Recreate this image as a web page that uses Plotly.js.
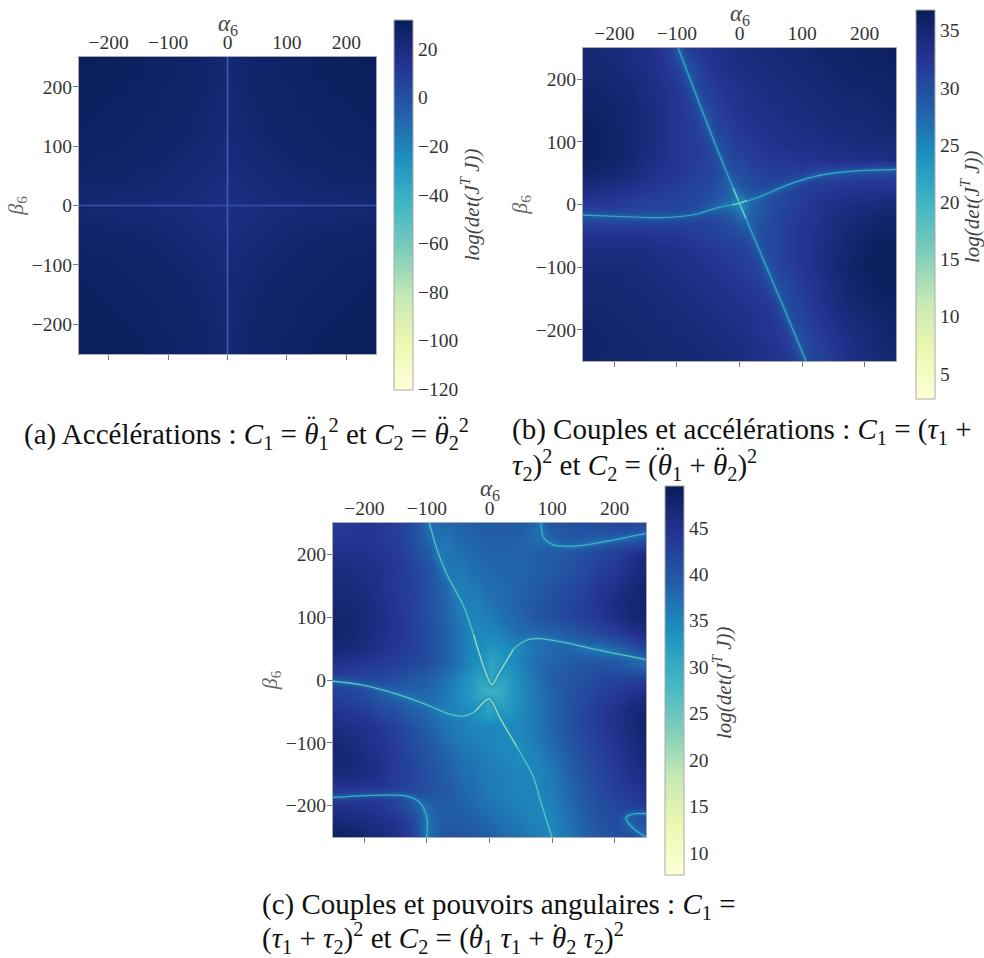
<!DOCTYPE html>
<html><head><meta charset="utf-8">
<script src="https://cdn.plot.ly/plotly-3.0.1.min.js"></script>
<style>html,body{margin:0;padding:0;background:#fff}</style>
</head><body><div id="chart" style="width:984px;height:958px"></div>
<script>
const alphaGrid=[-250,-225,-200,-175,-150,-125,-100,-75,-50,-25,0,25,50,75,100,125,150,175,200,225,250];
const betaGrid=[250,225,200,175,150,125,100,75,50,25,0,-25,-50,-75,-100,-125,-150,-175,-200,-225,-250];
const axisTicks=[-200,-100,0,100,200];
const colorStops=[[0,'#ffffd9'],[0.125,'#edf8b1'],[0.25,'#c7e9b4'],[0.375,'#7fcdbb'],[0.5,'#41b6c4'],[0.625,'#1d91c0'],[0.75,'#225ea8'],[0.875,'#253494'],[1,'#081d58']];
const barTicksA=[-120,-100,-80,-60,-40,-20,0,20];
const barTicksB=[5,10,15,20,25,30,35];
const barTicksC=[10,15,20,25,30,35,40,45];

const zA=[
[30,30,30,29,29,28,28,27,27,25,24,25,27,27,28,28,29,29,30,30,30],
[30,30,29,29,29,28,28,27,26,25,23,25,26,27,28,28,29,29,29,30,30],
[30,29,29,29,28,28,27,27,26,25,23,25,26,27,27,28,28,29,29,29,30],
[29,29,29,28,28,28,27,27,26,24,23,24,26,27,27,28,28,28,29,29,29],
[29,29,28,28,28,27,27,26,25,24,22,24,25,26,27,27,28,28,28,29,29],
[29,28,28,28,27,27,26,26,25,23,22,23,25,26,26,27,27,28,28,28,29],
[28,28,28,27,27,26,26,25,24,23,21,23,24,25,26,26,27,27,28,28,28],
[28,27,27,27,26,26,25,24,23,22,21,22,23,24,25,26,26,27,27,27,28],
[27,26,26,26,25,25,24,23,22,21,20,21,22,23,24,25,25,26,26,26,27],
[25,25,25,24,24,23,23,22,21,20,19,20,21,22,23,23,24,24,25,25,25],
[24,23,23,23,22,22,21,21,20,19,18,19,20,21,21,22,22,23,23,23,24],
[25,25,25,24,24,23,23,22,21,20,19,20,21,22,23,23,24,24,25,25,25],
[27,26,26,26,25,25,24,23,22,21,20,21,22,23,24,25,25,26,26,26,27],
[28,27,27,27,26,26,25,24,23,22,21,22,23,24,25,26,26,27,27,27,28],
[28,28,28,27,27,26,26,25,24,23,21,23,24,25,26,26,27,27,28,28,28],
[29,28,28,28,27,27,26,26,25,23,22,23,25,26,26,27,27,28,28,28,29],
[29,29,28,28,28,27,27,26,25,24,22,24,25,26,27,27,28,28,28,29,29],
[29,29,29,28,28,28,27,27,26,24,23,24,26,27,27,28,28,28,29,29,29],
[30,29,29,29,28,28,27,27,26,25,23,25,26,27,27,28,28,29,29,29,30],
[30,30,29,29,29,28,28,27,26,25,23,25,26,27,28,28,29,29,29,30,30],
[30,30,30,29,29,28,28,27,27,25,24,25,27,27,28,28,29,29,30,30,30]];

const zB=[
[34.5,34.5,34.5,34,33.5,32.5,30.5,32,33,33.5,34,34.5,34.5,35,35,35.5,35.5,35.5,36,36,36.3],
[35,35,34.5,34,33.5,33,31,30.5,32.5,33.5,34,34,34.5,34.5,35,35,35.5,35.5,36,36,36],
[35,35,35,34.5,34,33,32,30.5,32,33,33.5,34,34,34.5,34.5,35,35,35.5,35.5,35.5,36],
[35.5,35.5,35,35,34,33.5,32.5,31,31,32.5,33,33.5,34,34,34.5,34.5,35,35,35,35.5,35.5],
[35.8,35.8,35.5,35,34.5,33.5,32.5,31.5,30.5,32,33,33.5,33.5,34,34,34.5,34.5,35,35,35,35.5],
[36.2,36,35.5,35,34.5,33.5,32.5,31.5,30.5,31.5,32.5,33,33.5,33.5,34,34,34.5,34.5,34.5,35,35],
[36.5,36.2,35.7,35,34.5,33.5,32.5,32,31,30.5,32,32.5,33,33.5,33.5,33.5,34,34,34.5,34.5,34.5],
[36.3,36,35.5,35,34,33.5,32.5,32,31,30.5,31,32,32.5,32.5,33,33,33.5,33.5,33.5,33.5,34],
[35.5,35.2,35,34.5,33.5,33,32.5,31.5,31,30,30,31,31.5,31.5,31.5,31,31,31,31,31,31],
[34,33.8,33.5,33,32.5,32,31.5,31,30.5,29,29,30,30.5,30.5,31.5,32,32.5,32.5,33,33,33],
[32,32,32,31.5,31,31,31,30.5,29.5,28,25.5,28.5,30,31,32,33,33.5,34,34,34.5,34.5],
[31,31,31,31,31,31,31,31,31,30,28.5,29,30.5,31.5,32.5,33,34,34.5,35,35.5,35.5],
[33,33,33,33,33,32.5,32.5,32,31.5,31,30.5,30,30.5,31.5,32.5,33.5,34,35,35.5,36,36],
[34,34,34,34,34,33.5,33.5,33,32.5,32,31.5,30.5,30.5,31.5,32.5,33.5,34.5,35,36,36.5,36.5],
[34.5,34.5,34.5,34.5,34,34,33.5,33.5,33,32.5,32,31,30.5,31.5,32.5,33.5,34.5,35.5,36,36.5,36.5],
[35,35,35,34.5,34.5,34,34,33.5,33.5,33,32.5,32,30.5,30.5,32,33,34,35,35.8,36.3,36.3],
[35,35,35,35,34.5,34.5,34,34,33.5,33.5,33,32.5,31.5,30.5,31.5,33,34,35,35.5,36,36],
[35.3,35.3,35,35,35,34.5,34.5,34,34,33.5,33.5,33,32.5,30.5,31,32.5,33.5,34.5,35,35.5,35.8],
[35.5,35.3,35.3,35,35,35,34.5,34.5,34,34,33.5,33,32.5,31.5,30.5,32,33,34,34.5,35,35.5],
[35.5,35.5,35.3,35.3,35,35,35,34.5,34.5,34,34,33.5,33,32,30.5,31.5,32.5,33.5,34.5,35,35.2],
[35.3,35.3,35.3,35.3,35,35,35,35,34.5,34.5,34,33.5,33,32.5,31,31,32,33.5,34,34.5,35]];

const zC=[
[43,43.5,44,44,43,41.5,38,38,38.5,39,39.5,39.5,39.5,38,40,41,41,41.5,42,42,41.5],
[44,44.5,44.5,44,43,41.5,38.5,36.5,38,38.5,39,39,38.5,37.5,38.5,39.5,39.5,39.5,40,40,40.5],
[45,45,45,44.5,43.5,42,40,36,37,38,38.5,38.5,38.5,39,39.5,40,41,42,43,44.5,46],
[46,46,45.5,45,44,42.5,41,37.5,36,37.5,38,38.5,38.5,39,39.5,40.5,41.5,43,44,45.5,47],
[46.5,46.5,46,45,44,43,41,38.5,35.5,36.5,37.5,38,38.5,39.5,40.5,41.5,42.5,44,45,46.5,47.5],
[47,47,46.5,45.5,44,43,41,39,36,35.5,37,38,39,40,41,42,43,44.5,46,47,48],
[47.5,47.5,46.5,45.5,44.5,43,41,39,36.5,35,36,37.5,38.5,40,41,42,43,44,45.5,47,47.5],
[47.5,47.5,46.5,45.5,44.5,43,41.5,39.5,37,34.5,35,36,37.5,38,38.5,39.5,40.5,42,43,44.5,46],
[47,46.5,46,45,44,43,41.5,39.5,37,34.5,33,34,35,37,38,38.5,38,37,38.5,40,42],
[45,44.5,44,43.5,43,42,41,39,37,34,31,32.5,35.5,37.5,38.5,39.5,40,40.5,40,38.5,37.5],
[42,42,42,41.5,41,40,39,37.5,35,32.5,28.5,31.5,34.5,37,39,40,41,42,42.5,43,43],
[43,42.5,41.5,40,38.5,38,38,36.5,34.5,32,28.5,31.5,34.5,36.5,38.5,40.5,41.5,43,44,45,46],
[44.5,44,43.5,42,41,39,38,36,35,33.5,31,32.5,34.5,36.5,38.5,40.5,42,43.5,45,46.5,47.5],
[46,45.5,45,44,42.5,41,39,37,36,35,35,34.5,35,36.5,38.5,40.5,42,43.5,45,46.5,47.5],
[47,46.5,45.5,44.5,43,41.5,40,38,36.5,35.5,35,34.5,34.5,36,38,40,41.5,43,44.5,46,47.5],
[47,47,46,45,43.5,42,40.5,39,37.5,36.5,35.5,35,34.5,35,37,39,41,42.5,44,45.5,47],
[46.5,46.5,46,45,43.5,42.5,41,39.5,38,37,36,35.5,35,35,36,38.5,40.5,42,43.5,45,46],
[44,44,44,44,43,42,41,40,38.5,37.5,36,35.5,35,35,36,38,40,41.5,43,44,45],
[45,45,44.5,44,42.5,40,38.5,39.5,39,38,37,36,35.5,35,35.5,37.5,39.5,41,42,43,44],
[47,46.5,46,45.5,44.5,42.5,37.5,39.5,39.5,39,38,37,36,35,35,37,39,40.5,41.5,39.5,40.5],
[49,48.5,47.5,46.5,45,43,37.5,40,40.5,40,39,38,37,36,35,36.5,38.5,40,41,41.5,39]];

const ridgesA=[{x:[0,0],y:[-250,250],c:'#3a60b8'},{x:[-250,250],y:[0,0],c:'#3050ac'}];
const ridgesB=[
 {x:[-98,-75,-50,-25,0,25,50,75,106],y:[250,190,125,62,2,-57,-116,-175,-250],c:'#38a9c4'},
 {x:[-250,-169,-132,-84,-63,-41.5,-20,0,20,39,76,113,150,193,250],y:[-17,-20,-21,-18,-14,-7,-2,2,8,15,31,43,50,54,56],c:'#38a9c4'},
 {x:[-10,0,10],y:[26,2,-22],c:'#8fd3b8'},
 {x:[-12,0,12],y:[-0.5,2,6.5],c:'#8fd3b8'}];
const ridgesC=[
 {x:[-96,-84,-68,-41.5,-25.5,-9.6,3.7,14,38,59.6,81,123,177,250],y:[250,208,168,118,72.5,22,-7.5,8.5,48.5,63.6,66,59,47,32.5],c:'#5cc0c0'},
 {x:[-250,-206,-153,-100,-63,-41.5,-23,-0.5,17,43.5,70,81,99.5],y:[-2,-7.5,-21,-39.5,-54.5,-57.5,-50,-30,-61,-106,-154,-191,-250],c:'#5cc0c0'},
 {x:[82.5,86,102,134,177,250],y:[250,227,215,213,219,233.5],c:'#3cb0c5'},
 {x:[-250,-196,-132,-110.5,-100,-100],y:[-187,-184,-185,-196,-220,-250],c:'#3cb0c5'},
 {x:[250,230,218,230,250],y:[-213,-213,-219.5,-236.5,-250],c:'#3cb0c5'},
 {x:[-25.5,-9.6,3.7,14,38],y:[72.5,22,-7.5,8.5,48.5],c:'#9ad6b8'},
 {x:[-23,-0.5,17,43.5],y:[-50,-30,-61,-106],c:'#9ad6b8'}];

const panels=[
 {z:zA,zmin:-120.5,zmax:32,ticks:barTicksA,ridges:ridgesA,core:1.2,glow:[[3.5,0.25]],glowColor:'#2d50a8',plot:[79,376,57,354],bar:[394,20,390],lab:[470,205],top:25},
 {z:zB,zmin:2.8,zmax:36.8,ticks:barTicksB,ridges:ridgesB,core:1.2,glow:[[16,0.06],[9,0.10],[4.5,0.22]],glowColor:'#1d91c0',plot:[583,896,48,361],bar:[916,10,399],lab:[970,207],top:15},
 {z:zC,zmin:7.6,zmax:49.5,ticks:barTicksC,ridges:ridgesC,core:1.3,glow:[[14,0.08],[8,0.12],[4.5,0.22]],glowColor:'#1d91c0',plot:[333,646,523,837],bar:[665,486,875],lab:[722,683],top:490}];
const W=984,H=958,tickFont={family:'Liberation Serif',size:19.5,color:'#333'},grey='#aaaaaa';
const traces=[],layout={width:W,height:H,margin:{l:0,r:0,t:0,b:0,autoexpand:false},paper_bgcolor:'#fff',plot_bgcolor:'#fff',showlegend:false,annotations:[]};
panels.forEach((p,i)=>{
 const n=i*2+1,xb='x'+(n===1?'':n),xt='x'+(n+1),yy='y'+(i===0?'':i+1);
 const dx=[p.plot[0]/W,p.plot[1]/W],dy=[1-p.plot[3]/H,1-p.plot[2]/H];
 traces.push({type:'heatmap',x:alphaGrid,y:betaGrid,z:p.z,xaxis:xb,yaxis:yy,zmin:p.zmin,zmax:p.zmax,zsmooth:'best',colorscale:colorStops,hoverinfo:'skip',
  colorbar:{x:p.bar[0]/W,xanchor:'left',y:1-p.bar[1]/H,yanchor:'top',lenmode:'pixels',len:p.bar[2]-p.bar[1],thicknessmode:'pixels',thickness:p.plot[1]-p.plot[0]<300?18.5:19,xpad:0,ypad:0,outlinewidth:1,outlinecolor:'#aaaaaa',ticks:'',tickvals:p.ticks,tickfont:tickFont,ticklabelposition:'outside'}});
 p.ridges.forEach(r=>{
  p.glow.forEach(g=>traces.push({type:'scatter',mode:'lines',x:r.x,y:r.y,xaxis:xt,yaxis:yy,opacity:g[1],line:{color:p.glowColor,width:g[0],shape:'spline',smoothing:0.8},hoverinfo:'skip'}));
  traces.push({type:'scatter',mode:'lines',x:r.x,y:r.y,xaxis:xt,yaxis:yy,line:{color:r.c,width:p.core,shape:'spline',smoothing:0.8},hoverinfo:'skip'});
 });
 layout['xaxis'+(n===1?'':n)]={domain:dx,range:[-250,250],anchor:yy,side:'bottom',tickvals:axisTicks,showticklabels:false,ticks:'outside',ticklen:5,tickcolor:'#777',showline:true,linecolor:grey,mirror:true,showgrid:false,zeroline:false,fixedrange:true};
 layout['xaxis'+(n+1)]={domain:dx,range:[-250,250],anchor:yy,overlaying:xb,side:'top',tickvals:axisTicks,ticks:'',ticklabelstandoff:3,tickfont:tickFont,showline:false,showgrid:false,zeroline:false,fixedrange:true};
 layout['yaxis'+(i===0?'':i+1)]={domain:dy,range:[-250,250],anchor:xb,tickvals:axisTicks,ticks:'outside',ticklen:5,ticklabelstandoff:-3,tickcolor:'#777',tickfont:tickFont,showline:true,linecolor:grey,mirror:true,showgrid:false,zeroline:false,fixedrange:true,automargin:true,title:{text:'<i>β</i><sub>6</sub>',font:{family:'Liberation Serif',size:22,color:'#666'},standoff:2}};
 layout.annotations.push({xref:'paper',yref:'paper',x:(p.plot[0]+p.plot[1])/2/W,y:1-p.top/H,xanchor:'center',yanchor:'middle',showarrow:false,text:'<i>α</i><sub>6</sub>',font:{family:'Liberation Serif',size:23,color:'#444'}});
 layout.annotations.push({xref:'paper',yref:'paper',x:p.lab[0]/W,y:1-p.lab[1]/H,xanchor:'center',yanchor:'middle',showarrow:false,textangle:-90,text:'<i>log(det(J<sup>T</sup> J))</i>',font:{family:'Liberation Serif',size:21,color:'#444'}});
});
const captionText=[
 ['(a) Accélérations : <i>C</i><sub>1</sub> = <i>θ</i><sub>1</sub><sup>2</sup> et <i>C</i><sub>2</sub> = <i>θ</i><sub>2</sub><sup>2</sup>',22,434],
 ['(b) Couples et accélérations : <i>C</i><sub>1</sub> = (<i>τ</i><sub>1</sub> +',510,431],
 ['<i>τ</i><sub>2</sub>)<sup>2</sup> et <i>C</i><sub>2</sub> = (<i>θ</i><sub>1</sub> + <i>θ</i><sub>2</sub>)<sup>2</sup>',510,465],
 ['(c) Couples et pouvoirs angulaires : <i>C</i><sub>1</sub> =',260,906],
 ['(<i>τ</i><sub>1</sub> + <i>τ</i><sub>2</sub>)<sup>2</sup> et <i>C</i><sub>2</sub> = (<i>θ</i><sub>1</sub> <i>τ</i><sub>1</sub> + <i>θ</i><sub>2</sub> <i>τ</i><sub>2</sub>)<sup>2</sup>',260,938]];
captionText.forEach(c=>layout.annotations.push({xref:'paper',yref:'paper',x:c[1]/W,y:1-c[2]/H,xanchor:'left',yanchor:'middle',showarrow:false,align:'left',text:c[0],font:{family:'Liberation Serif',size:29,color:'#111'}}));
const accentMarks=[['¨',311,424],['¨',442,424],['¨',660,455],['¨',720,455],['˙',477,932],['˙',555,932]];
accentMarks.forEach(m=>layout.annotations.push({xref:'paper',yref:'paper',x:m[1]/W,y:1-m[2]/H,xanchor:'center',yanchor:'middle',showarrow:false,text:m[0],font:{family:'Liberation Serif',size:26,color:'#111'}}));
Plotly.newPlot('chart',traces,layout,{displayModeBar:false,staticPlot:true});
</script></body></html>
